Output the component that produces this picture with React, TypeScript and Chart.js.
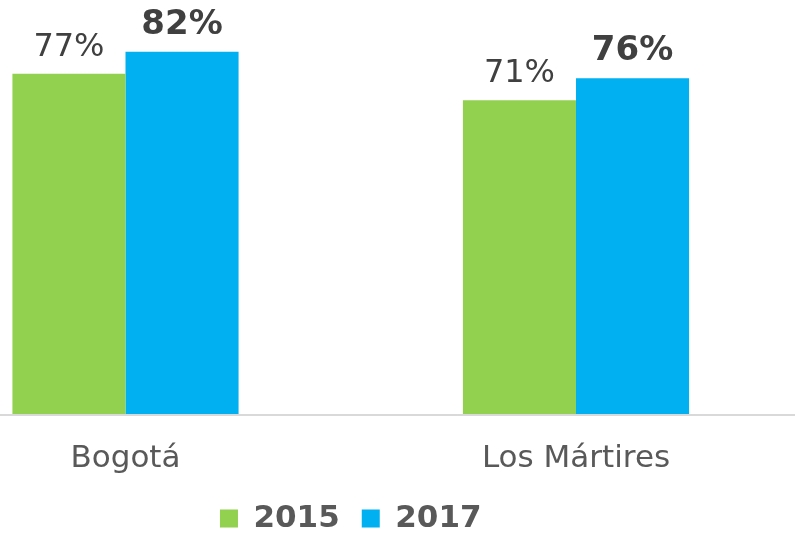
import { useEffect, useRef } from 'react';
import { Chart, registerables } from 'chart.js';

Chart.register(...registerables);

const categories = ['Bogotá', 'Los Mártires'];
const seriesNames = ['2015', '2017'];
const values2015 = [77, 71];
const values2017 = [82, 76];
const seriesColors = ['#92D050', '#00B0F0'];

const FONT = '"DejaVu Sans", Verdana, sans-serif';

const baselinePlugin = {
  id: 'baseline',
  afterDatasetsDraw(chart: any) {
    const ctx = chart.ctx;
    const y = chart.scales.y.getPixelForValue(0);
    ctx.save();
    ctx.fillStyle = '#d9d9d9';
    ctx.fillRect(0, Math.round(y), chart.width, 2);
    ctx.restore();
  },
};

const valueLabelPlugin = {
  id: 'valueLabels',
  afterDatasetsDraw(chart: any) {
    const ctx = chart.ctx;
    ctx.save();
    chart.data.datasets.forEach((ds: any, di: number) => {
      const meta = chart.getDatasetMeta(di);
      const bold = di === 1;
      ctx.font = `${bold ? 'bold ' : ''}${bold ? 34 : 32}px ${FONT}`;
      ctx.fillStyle = '#404040';
      ctx.textAlign = 'center';
      ctx.textBaseline = 'alphabetic';
      meta.data.forEach((el: any, i: number) => {
        ctx.fillText(`${ds.data[i]}%`, el.x, el.y - 18);
      });
    });
    ctx.restore();
  },
};

export default function App() {
  const canvasRef = useRef<HTMLCanvasElement | null>(null);

  useEffect(() => {
    if (!canvasRef.current) return;
    const chart = new Chart(canvasRef.current, {
      type: 'bar',
      data: {
        labels: categories,
        datasets: [
          {
            label: seriesNames[0],
            data: values2015,
            backgroundColor: seriesColors[0],
            borderWidth: 0,
            categoryPercentage: 0.502,
            barPercentage: 1,
            clip: false,
          },
          {
            label: seriesNames[1],
            data: values2017,
            backgroundColor: seriesColors[1],
            borderWidth: 0,
            categoryPercentage: 0.502,
            barPercentage: 1,
            clip: false,
          },
        ],
      },
      options: {
        responsive: false,
        animation: false,
        events: [],
        layout: {
          padding: { top: 16.4, left: 125.5, right: 219, bottom: -8 },
        },
        scales: {
          x: {
            offset: false,
            grid: { display: false, drawTicks: true, tickLength: 22, offset: false },
            border: { display: false },
            ticks: {
              color: '#595959',
              padding: 0,
              maxRotation: 0,
              autoSkip: false,
              font: { family: FONT, size: 31, lineHeight: '45px' },
            },
          },
          y: {
            display: false,
            min: 0,
            max: 90,
          },
        },
        plugins: {
          tooltip: { enabled: false },
          legend: {
            position: 'bottom',
            fullSize: false,
            labels: {
              boxWidth: 18,
              boxHeight: 18,
              padding: 22,
              color: '#595959',
              font: { family: FONT, size: 31, weight: 'bold' },
            },
          },
        },
      },
      plugins: [baselinePlugin, valueLabelPlugin],
    } as any);
    return () => chart.destroy();
  }, []);

  return (
    <div style={{ position: 'fixed', left: 0, top: 0, width: 795, height: 536, background: '#ffffff' }}>
      <canvas ref={canvasRef} width={795} height={536} style={{ display: 'block' }} />
    </div>
  );
}
